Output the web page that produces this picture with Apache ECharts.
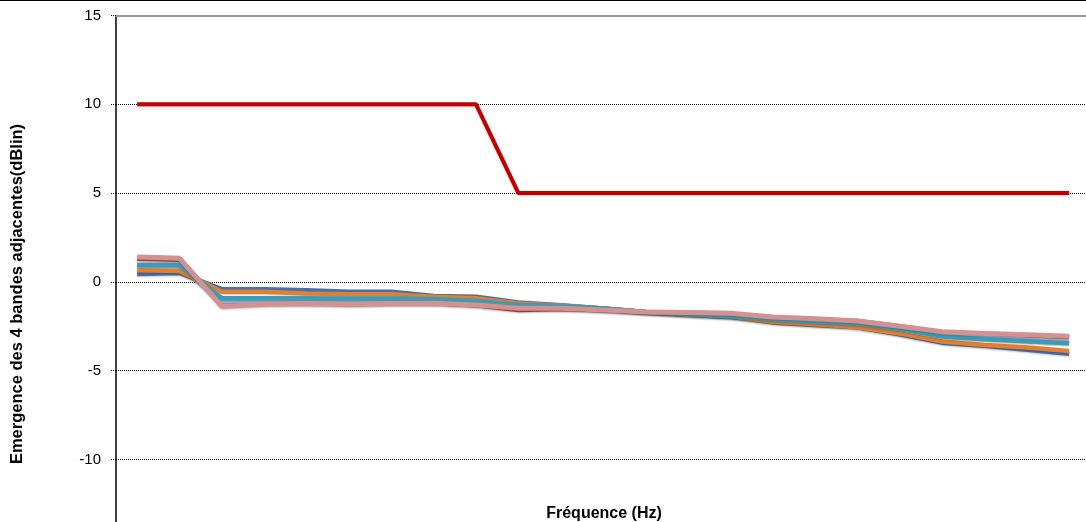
<!DOCTYPE html>
<html>
<head>
<meta charset="utf-8">
<script src="https://cdn.jsdelivr.net/npm/echarts@6/dist/echarts.min.js"></script>
<style>
html,body{margin:0;padding:0;background:#fff;overflow:hidden;}
#chart{width:1100px;height:570px;}
</style>
</head>
<body>
<div id="chart"></div>
<script>
const categories = ["50","63","80","100","125","160","200","250","315","400","500","630","800","1000","1250","1600","2000","2500","3150","4000","5000","6300","8000"];
const yTicks = [-15, 15, 5];
const limitValues = [10,10,10,10,10,10,10,10,10,5,5,5,5,5,5,5,5,5,5,5,5,5,5];
const blueValues = [0.45,0.5,-0.41,-0.41,-0.47,-0.56,-0.55,-0.79,-0.84,-1.16,-1.31,-1.5,-1.69,-1.85,-1.97,-2.28,-2.42,-2.56,-2.95,-3.42,-3.6,-3.82,-4.05];
const orangeValues = [0.65,0.62,-0.55,-0.55,-0.66,-0.7,-0.7,-0.84,-0.92,-1.22,-1.33,-1.5,-1.69,-1.85,-1.95,-2.25,-2.38,-2.55,-2.9,-3.36,-3.55,-3.7,-3.89];
const lavenderValues = [0.9,0.88,-1.1,-1.07,-1.07,-1.07,-1.05,-1.05,-1.15,-1.38,-1.4,-1.52,-1.7,-1.8,-1.9,-2.08,-2.2,-2.3,-2.6,-3.0,-3.15,-3.28,-3.38];
const tealValues = [0.97,0.96,-0.92,-0.92,-0.92,-0.94,-0.94,-0.98,-1.07,-1.3,-1.35,-1.5,-1.69,-1.82,-1.93,-2.1,-2.24,-2.35,-2.66,-3.08,-3.23,-3.34,-3.45];
const darkRedValues = [1.3,1.25,-1.22,-1.2,-1.2,-1.25,-1.22,-1.2,-1.32,-1.58,-1.52,-1.6,-1.7,-1.74,-1.8,-2.0,-2.1,-2.2,-2.5,-2.85,-2.92,-3.0,-3.1];
const pinkValues = [1.4,1.33,-1.38,-1.26,-1.22,-1.26,-1.22,-1.2,-1.3,-1.48,-1.48,-1.58,-1.69,-1.72,-1.76,-1.98,-2.07,-2.2,-2.5,-2.8,-2.9,-2.97,-3.06];

const FONT = '"Liberation Sans", Arial, sans-serif';
function line(name, data, color, width, z) {
  return {
    name: name, type: 'line', data: data, symbol: 'none', z: z,
    lineStyle: { color: color, width: width, shadowColor: 'rgba(0,0,0,0.22)', shadowBlur: 2, shadowOffsetY: 1 },
    animation: false
  };
}
const chart = echarts.init(document.getElementById('chart'), null, { renderer: 'canvas' });
chart.setOption({
  animation: false,
  backgroundColor: '#ffffff',
  title: {
    text: 'Fréquence (Hz)', left: 599, top: 501, textAlign: 'center',
    textStyle: { fontFamily: FONT, fontSize: 16, fontWeight: 'bold', color: '#000' }
  },
  graphic: [
    { type: 'line', shape: { x1: 0, y1: 0.5, x2: 1100, y2: 0.5 }, style: { stroke: '#000', lineWidth: 1 } },
    { type: 'text', x: 17, y: 294, rotation: Math.PI / 2,
      style: { text: 'Emergence des 4 bandes adjacentes(dBlin)', font: 'bold 16.5px ' + FONT, fill: '#000', align: 'center', verticalAlign: 'middle' } }
  ],
  grid: { left: 116, top: 15.5, width: 974.3, height: 532.8, containLabel: false },
  xAxis: [{
    type: 'category', data: categories, boundaryGap: true, position: 'bottom',
    axisLine: { show: true, onZero: false, lineStyle: { color: '#000' } }, axisTick: { show: false }, axisLabel: { show: false }, splitLine: { show: false }
  }, {
    type: 'category', data: categories, boundaryGap: true, position: 'top',
    axisLine: { show: true, onZero: false, lineStyle: { color: '#999', width: 2 } }, axisTick: { show: false }, axisLabel: { show: false }, splitLine: { show: false }
  }],
  yAxis: {
    type: 'value', min: yTicks[0], max: yTicks[1], interval: yTicks[2],
    axisLine: { show: true, lineStyle: { color: '#000', width: 1.5 } },
    axisTick: { show: true, length: 6, lineStyle: { color: '#000', type: 'dotted' } },
    axisLabel: { fontFamily: FONT, fontSize: 15, color: '#000', margin: 15, showMaxLabel: true },
    splitLine: { show: true, lineStyle: { color: '#000', type: 'dotted', width: 1 } }
  },
  series: [
    line('Série 1', blueValues, '#4271AE', 4.5, 2),
    line('Série 2', orangeValues, '#E2802F', 4.5, 3),
    line('Série 3', darkRedValues, '#B9423F', 4.5, 2),
    line('Série 4', lavenderValues, '#9AB4DA', 4.5, 2),
    line('Série 5', tealValues, '#3C9CB6', 4.5, 4),
    line('Série 6', pinkValues, '#D49191', 5, 5),
    line('Limite', limitValues, '#C00000', 4, 6)
  ]
});
</script>
</body>
</html>
